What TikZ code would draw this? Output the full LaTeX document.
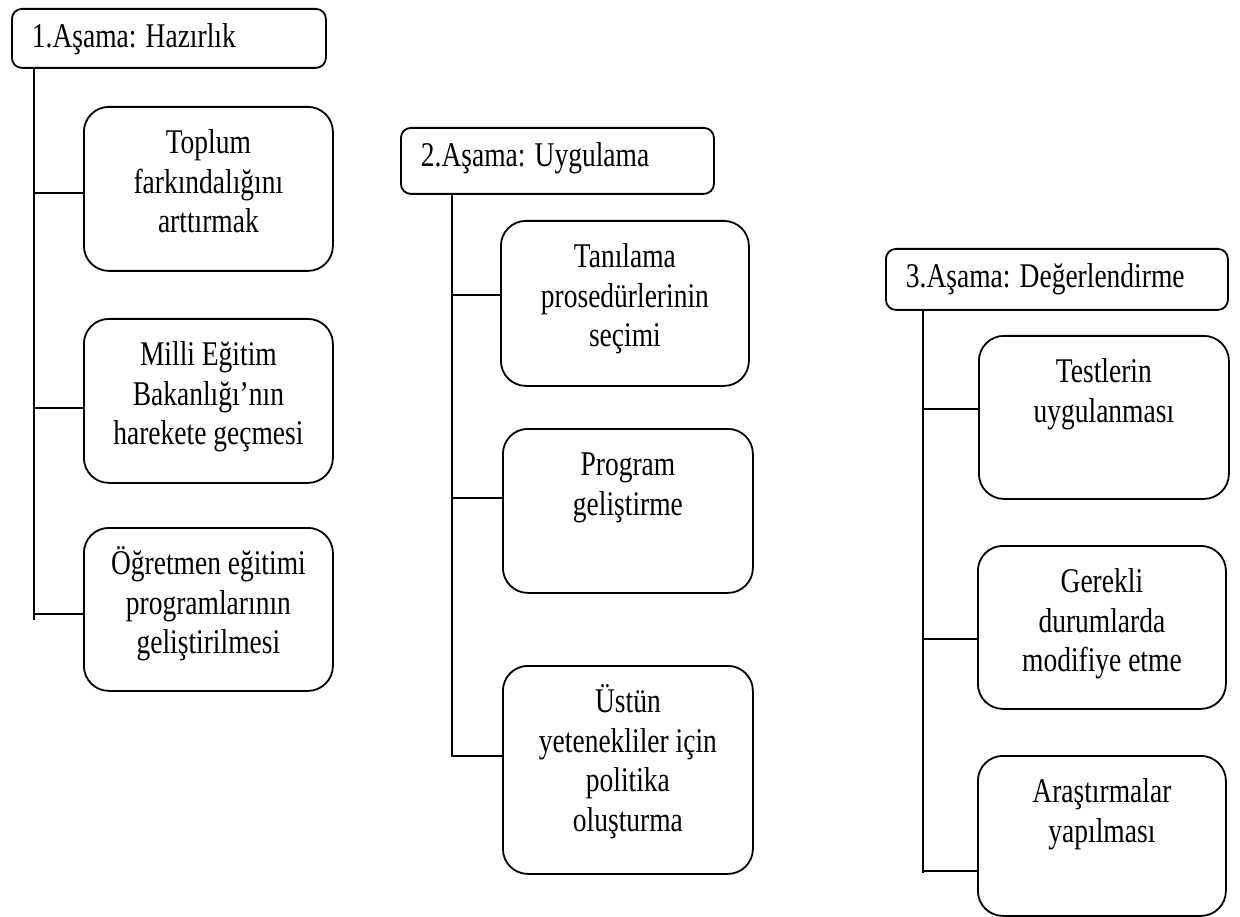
\documentclass[tikz,border=0pt]{standalone}
\usepackage{fontspec}
\setmainfont{Liberation Serif}
\usepackage{graphicx}
% taller-than-wide lettering, one line at a time
\newcommand\tall[1]{\scalebox{1}[1.26]{#1}}
% item text: width, height, lines (first baseline 47pt below the top)
\newcommand\itemtext[3]{\parbox[c][#2][t]{#1}{\centering\baselineskip=39.5pt\lineskiplimit=-100pt\lineskip=0pt\rule{0pt}{47pt}#3\par}}
% stage title: width, height, text (left inset 20pt)
\newcommand\stagetext[3]{\parbox[c][#2][t]{#1}{\raggedright\hspace*{20pt}\rule{0pt}{39pt}\tall{#3}\par}}
\begin{document}
\begin{tikzpicture}[x=1pt,y=-1pt,
  every node/.style={font=\fontsize{27.5}{33}\selectfont},
  stage/.style={draw, line width=1.8pt, rounded corners=10pt, inner sep=0pt, anchor=north west},
  item/.style={draw, line width=1.8pt, rounded corners=25pt, inner sep=0pt, anchor=north west},
  link/.style={line width=1.8pt}]
\useasboundingbox (0,0) rectangle (1240,917);

% ---- Stage 1 ----
\node[stage] (h1) at (11,8) {\stagetext{314pt}{59pt}{1.Aşama: Hazırlık}};
\node[item] (b1a) at (83,106) {\itemtext{249pt}{164pt}{\tall{Toplum}\\\tall{farkındalığını}\\\tall{arttırmak}}};
\node[item] (b1b) at (83,318) {\itemtext{249pt}{164pt}{\tall{Milli Eğitim}\\\tall{Bakanlığı’nın}\\\tall{harekete geçmesi}}};
\node[item] (b1c) at (83,527) {\itemtext{249pt}{163pt}{\tall{Öğretmen eğitimi}\\\tall{programlarının}\\\tall{geliştirilmesi}}};

% ---- Stage 2 ----
\node[stage] (h2) at (400,127) {\stagetext{313pt}{66pt}{2.Aşama: Uygulama}};
\node[item] (b2a) at (500,220) {\itemtext{248pt}{165pt}{\tall{Tanılama}\\\tall{prosedürlerinin}\\\tall{seçimi}}};
\node[item] (b2b) at (502,428) {\itemtext{250pt}{164pt}{\tall{Program}\\\tall{geliştirme}}};
\node[item] (b2c) at (502,665) {\itemtext{250pt}{208pt}{\tall{Üstün}\\\tall{yetenekliler için}\\\tall{politika}\\\tall{oluşturma}}};

% ---- Stage 3 ----
\node[stage] (h3) at (885,248) {\stagetext{342pt}{61pt}{3.Aşama: Değerlendirme}};
\node[item] (b3a) at (978,335) {\itemtext{250pt}{163pt}{\tall{Testlerin}\\\tall{uygulanması}}};
\node[item] (b3b) at (977,545) {\itemtext{248pt}{163pt}{\tall{Gerekli}\\\tall{durumlarda}\\\tall{modifiye etme}}};
\node[item] (b3c) at (977,755) {\itemtext{248pt}{160pt}{\tall{Araştırmalar}\\\tall{yapılması}}};

% ---- trunks ----
\coordinate (t1) at (34,620);
\coordinate (t2) at (452,757);
\coordinate (t3) at (923,873);
\draw[link] (h1.south -| t1) -- (t1);
\draw[link] (h2.south -| t2) -- (t2);
\draw[link] (h3.south -| t3) -- (t3);

% ---- branches (entry points on the items' left sides) ----
\coordinate (e1a) at ([yshift=-4pt]b1a.west);
\coordinate (e1b) at ([yshift=-7pt]b1b.west);
\coordinate (e1c) at ([yshift=-4.5pt]b1c.west);
\coordinate (e2a) at ([yshift=8pt]b2a.west);
\coordinate (e2b) at ([yshift=13pt]b2b.west);
\coordinate (e2c) at ([yshift=14pt]b2c.west);
\coordinate (e3a) at ([yshift=8.5pt]b3a.west);
\coordinate (e3b) at ([yshift=-11.5pt]b3b.west);
\coordinate (e3c) at ([yshift=-35pt]b3c.west);
\foreach \e/\t in {e1a/t1,e1b/t1,e1c/t1,e2a/t2,e2b/t2,e2c/t2,e3a/t3,e3b/t3,e3c/t3}
  \draw[link] (\e -| \t) -- (\e);
\end{tikzpicture}
\end{document}
